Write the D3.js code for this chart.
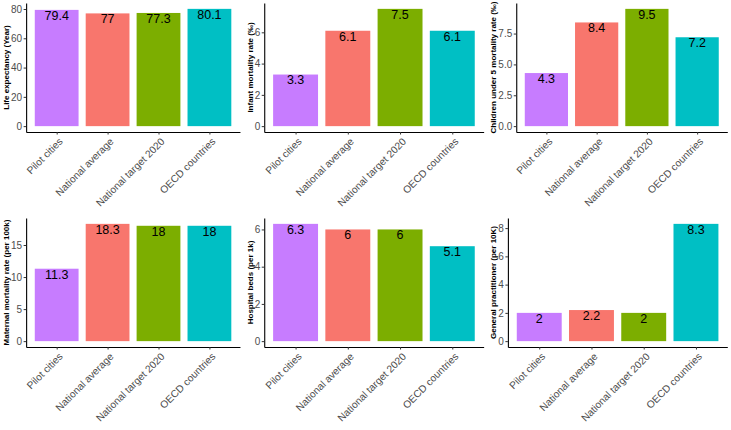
<!DOCTYPE html>
<html>
<head>
<meta charset="utf-8">
<script src="https://cdn.jsdelivr.net/npm/d3@7"></script>
<style>
  body { margin: 0; background: #fff; }
  svg { display: block; font-family: "Liberation Sans", Arial, sans-serif; }
</style>
</head>
<body>
<svg id="chart" width="731" height="430"></svg>
<script>
// six small ggplot-style bar panels, 3 x 2 grid

const categories = ["Pilot cities", "National average", "National target 2020", "OECD countries"];
const colors = ["#C77CFF", "#F8766D", "#7CAE00", "#00BFC4"];

const titles = [
  "Life expectancy (Year)",
  "Infant mortality rate (‰)",
  "Children under 5 mortality rate (‰)",
  "Maternal mortality rate (per 100k)",
  "Hospital beds (per 1k)",
  "General practitioner (per 10K)"
];

const lifeExpectancy = [79.4, 77, 77.3, 80.1];
const infantMortality = [3.3, 6.1, 7.5, 6.1];
const under5Mortality = [4.3, 8.4, 9.5, 7.2];
const maternalMortality = [11.3, 18.3, 18, 18];
const hospitalBeds = [6.3, 6, 6, 5.1];
const generalPractitioner = [2, 2.2, 2, 8.3];

const tickSets = [
  [0, 20, 40, 60, 80],
  [0, 2, 4, 6],
  [0, 2.5, 5, 7.5],
  [0, 5, 10, 15],
  [0, 2, 4, 6],
  [0, 2, 4, 6, 8]
];
const tickFormats = ["d", "d", ".1f", "d", "d", "d"];

const series = [lifeExpectancy, infantMortality, under5Mortality,
                maternalMortality, hospitalBeds, generalPractitioner];

const W = 731, H = 430;
const cellW = W / 3, cellH = H / 2;
const svg = d3.select("#chart");

// measure tick label widths so the y axis sits where ggplot would put it
function textWidth(str, size) {
  const t = svg.append("text").attr("font-size", size).text(str);
  const w = t.node().getComputedTextLength();
  t.remove();
  return w;
}

series.forEach((values, i) => {
  const col = i % 3, row = Math.floor(i / 3);
  const cx = col * cellW, cy = row * cellH;
  const fmt = d3.format(tickFormats[i]);
  const labelW = d3.max(tickSets[i], t => textWidth(fmt(t), 10));

  const left = cx + 15 + labelW;
  const right = cx + cellW - 3.7;
  const top = cy + 3;
  const bottom = cy + 132;

  const maxV = d3.max(values);
  const y = d3.scaleLinear()
    .domain([-0.05 * maxV, 1.05 * maxV])
    .range([bottom, top]);
  const x = d3.scalePoint()
    .domain(categories)
    .range([left, right])
    .padding(0.6);
  const bw = x.step() * 0.86;

  const g = svg.append("g");

  g.selectAll("rect")
    .data(values)
    .enter().append("rect")
    .attr("x", (d, j) => x(categories[j]) - bw / 2)
    .attr("width", bw)
    .attr("y", d => y(d))
    .attr("height", d => y(0) - y(d))
    .attr("fill", (d, j) => colors[j]);

  g.selectAll("text.val")
    .data(values)
    .enter().append("text")
    .attr("class", "val")
    .attr("x", (d, j) => x(categories[j]))
    .attr("y", d => y(d) + 9.8)
    .attr("text-anchor", "middle")
    .attr("font-size", 12.5)
    .attr("fill", "#000")
    .text(d => String(d));

  // y axis
  const ya = g.append("g")
    .attr("transform", `translate(${left},0)`)
    .call(d3.axisLeft(y).tickValues(tickSets[i]).tickFormat(fmt)
      .tickSize(2.5).tickSizeOuter(0).tickPadding(1.5));
  ya.attr("font-family", null).attr("font-size", null);
  ya.select(".domain").attr("stroke", "#000").attr("stroke-width", 1.1);
  ya.selectAll(".tick line").attr("stroke", "#333");
  ya.selectAll(".tick text").attr("font-size", 10).attr("fill", "#4D4D4D");

  // x axis
  const xa = g.append("g")
    .attr("transform", `translate(0,${bottom})`)
    .call(d3.axisBottom(x).tickSize(2.5).tickSizeOuter(0));
  xa.attr("font-family", null).attr("font-size", null);
  xa.select(".domain").attr("stroke", "#000").attr("stroke-width", 1.1);
  xa.selectAll(".tick line").attr("stroke", "#333");
  xa.selectAll(".tick text")
    .attr("y", null)
    .attr("dy", "0.72em")
    .attr("transform", "translate(1,5) rotate(-45)")
    .attr("text-anchor", "end")
    .attr("font-size", 10.2)
    .attr("fill", "#4D4D4D");

  // y title
  g.append("text")
    .attr("transform", `translate(${cx + 9},${(top + bottom) / 2}) rotate(-90)`)
    .attr("text-anchor", "middle")
    .attr("font-size", 8)
    .attr("font-weight", "bold")
    .attr("fill", "#000")
    .text(titles[i]);
});
</script>
</body>
</html>
